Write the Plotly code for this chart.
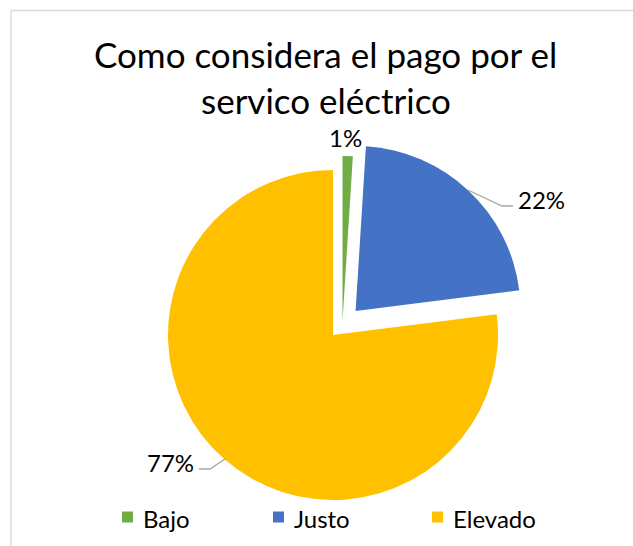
import plotly.graph_objects as go

# Survey answers: how the electricity bill is perceived
categories = ["Bajo", "Justo", "Elevado"]
values = [1, 22, 77]
colors = ["#70AD47", "#4472C4", "#FFC000"]
pulls = [0.0, 0.2, 0.0]

W, H = 633, 546
FONT = "Lato"
TRANSPARENT = "rgba(0,0,0,0)"


def px(x):
    return x / W


def py(y):
    return 1 - y / H


total = sum(values)
pct = [f"{round(v / total * 100)}%" for v in values]

# pie geometry (pixels): centre and radius of the unexploded pie
cx, cy, r = 333, 335, 165
half = r * (1 + max(pulls))

fig = go.Figure()

# main pie: Justo exploded, Elevado in place; Bajo drawn separately below
fig.add_trace(go.Pie(
    labels=categories,
    values=values,
    sort=False,
    direction="clockwise",
    rotation=0,
    pull=pulls,
    marker=dict(colors=[TRANSPARENT, colors[1], colors[2]], line=dict(width=0)),
    textinfo="none",
    hoverinfo="label+percent",
    showlegend=False,
    domain=dict(x=[px(cx - half), px(cx + half)], y=[py(cy + half), py(cy - half)]),
))

# Bajo slice, dragged out on its own (same angles, offset centre)
bx, by = cx + 9.5, cy - 14
fig.add_trace(go.Pie(
    labels=categories,
    values=values,
    sort=False,
    direction="clockwise",
    rotation=0,
    marker=dict(colors=[colors[0], TRANSPARENT, TRANSPARENT], line=dict(width=0)),
    textinfo="none",
    hoverinfo="skip",
    showlegend=False,
    domain=dict(x=[px(bx - r), px(bx + r)], y=[py(by + r), py(by - r)]),
))

# data labels with leader lines
label_pos = [(345, 137), (541, 199), (170, 462)]
for (x, y), t in zip(label_pos, pct):
    fig.add_annotation(x=px(x), y=py(y), xref="paper", yref="paper", text=t,
                       xanchor="center", yanchor="middle",
                       showarrow=False, font=dict(family=FONT, size=24, color="#000000"))

leaders = [
    [(468, 190), (502, 206), (513, 206)],
    [(225, 459), (210, 469), (199, 469)],
]
for pts in leaders:
    path = "M " + " L ".join(f"{px(x)},{py(y)}" for x, y in pts)
    fig.add_shape(type="path", path=path, xref="paper", yref="paper",
                  line=dict(color="#A6A6A6", width=1.3))

# title
for text, y in [("Como considera el pago por el", 54), ("servico eléctrico", 100)]:
    fig.add_annotation(x=px(326), y=py(y), xref="paper", yref="paper", text=text,
                       xanchor="center", yanchor="middle",
                       showarrow=False, font=dict(family=FONT, size=35, color="#000000"))

# legend: colour key squares and names
legend_x = [122, 273, 432]
legend_y = 517
for x, name, col in zip(legend_x, categories, colors):
    fig.add_shape(type="rect", xref="paper", yref="paper",
                  x0=px(x), x1=px(x + 11), y0=py(legend_y + 5.5), y1=py(legend_y - 5.5),
                  line=dict(width=0), fillcolor=col)
    fig.add_annotation(x=px(x + 19), y=py(legend_y + 1), xref="paper", yref="paper",
                       text=name, xanchor="left", yanchor="middle", showarrow=False,
                       font=dict(family=FONT, size=24, color="#000000"))

# chart area border
fig.add_shape(type="rect", xref="paper", yref="paper",
              x0=px(11), y0=py(560), x1=px(650), y1=py(10.5),
              line=dict(color="#D9D9D9", width=1.3), fillcolor=TRANSPARENT)

fig.update_layout(
    width=W, height=H,
    margin=dict(l=0, r=0, t=0, b=0),
    paper_bgcolor="white",
    plot_bgcolor="white",
    font=dict(family=FONT, color="#000000"),
    showlegend=False,
)

fig.write_html("out.html")
